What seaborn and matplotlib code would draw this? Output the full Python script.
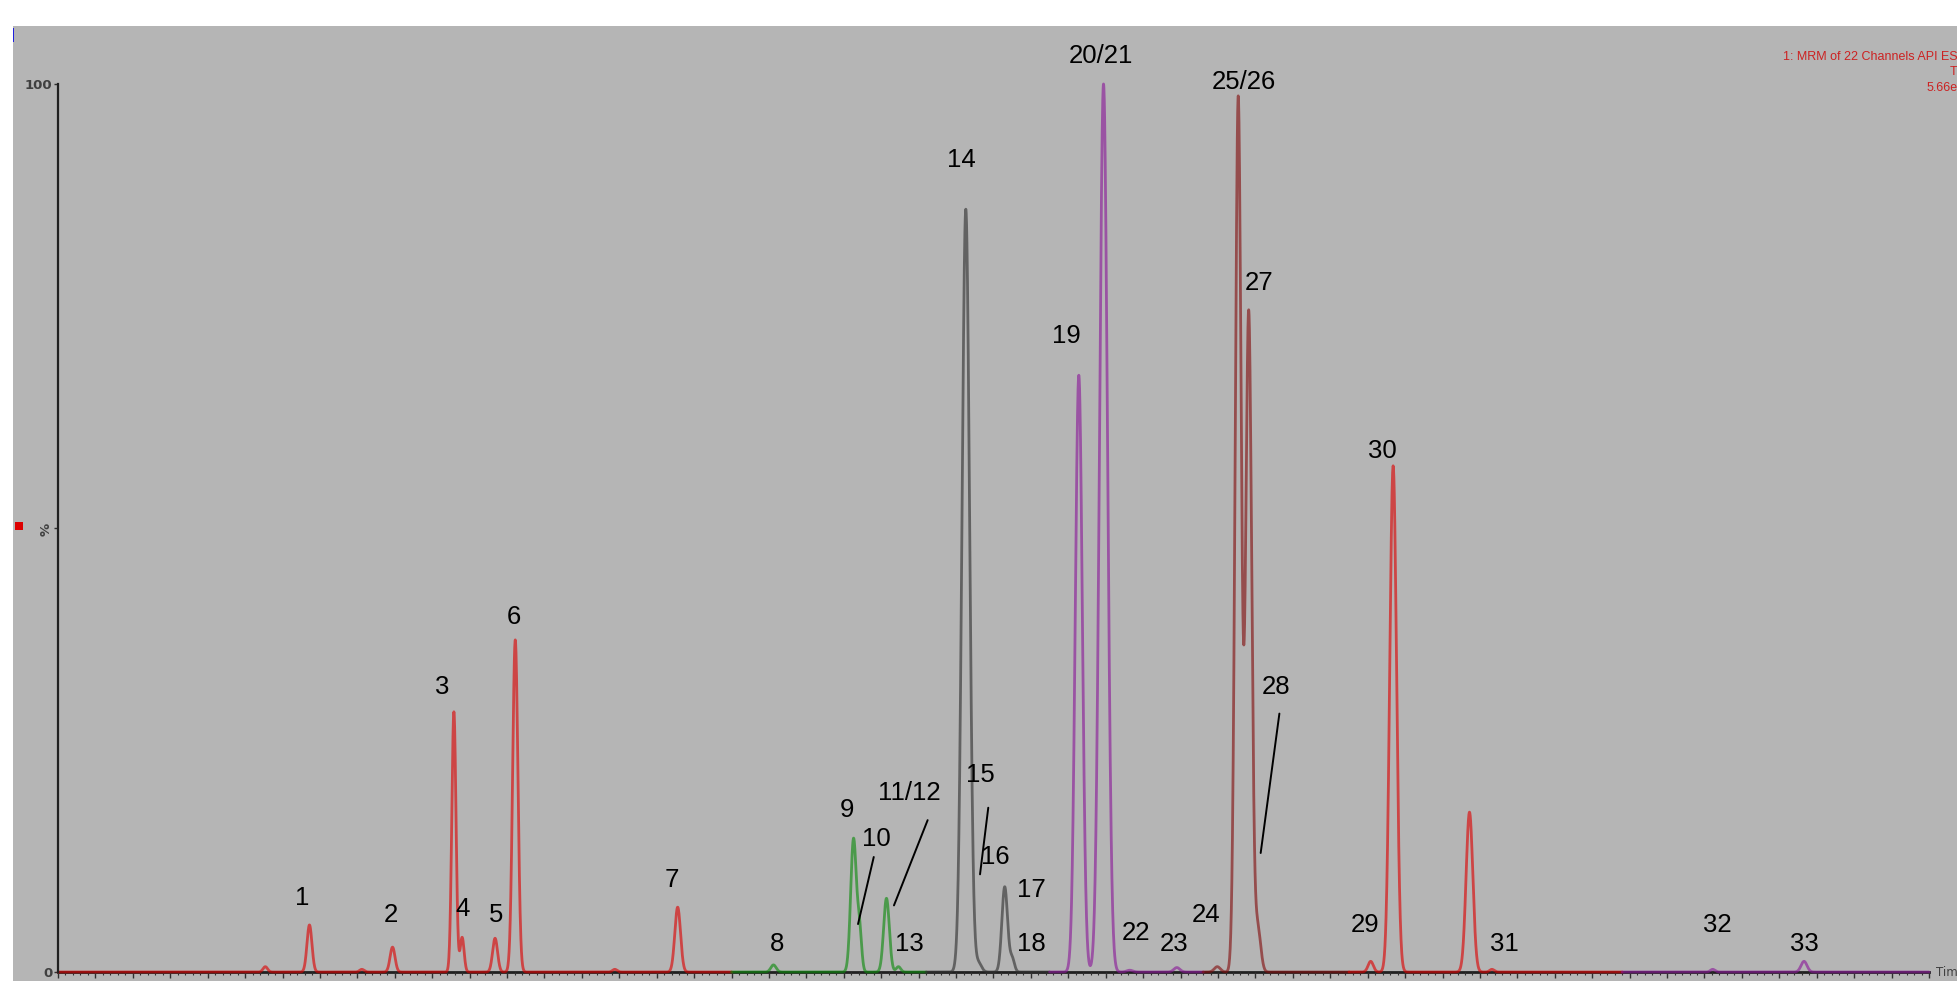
"""Recreate the MRM total ion chromatogram with numbered peak labels."""

import matplotlib

matplotlib.use("Agg")
import matplotlib.pyplot as plt
import numpy as np
import pandas as pd
import seaborn as sns
from matplotlib.patches import Rectangle
from matplotlib.ticker import MultipleLocator

# peak table
# retention time (min), height (% of base peak), sigma (min), trace the peak belongs to
peak_rt = [2.77, 3.36, 4.06, 4.47, 5.29, 5.40, 5.84, 6.11, 7.44, 8.28,
           9.56, 10.63, 10.71, 11.07, 11.23,
           12.13, 12.30, 12.65, 12.75,
           13.64, 13.97, 14.32, 14.95,
           15.49, 15.77, 15.91, 16.03,
           17.54, 17.84, 18.86, 19.16,
           22.11, 23.33]
peak_height = [0.6, 5.3, 0.3, 2.8, 29.3, 3.9, 3.8, 37.4, 0.3, 7.3,
               0.8, 15.0, 4.5, 8.3, 0.6,
               85.9, 1.0, 9.6, 1.5,
               67.2, 100.0, 0.2, 0.5,
               0.6, 98.5, 74.3, 5.0,
               1.2, 57.0, 18.0, 0.3,
               0.3, 1.2]
peak_sigma = [0.03, 0.033, 0.03, 0.033, 0.028, 0.026, 0.033, 0.035, 0.03, 0.038,
              0.035, 0.038, 0.028, 0.038, 0.03,
              0.05, 0.04, 0.038, 0.03,
              0.047, 0.053, 0.04, 0.04,
              0.04, 0.04, 0.04, 0.04,
              0.035, 0.045, 0.045, 0.03,
              0.03, 0.04]
peak_trace = ["A"] * 10 + ["B"] * 5 + ["C"] * 4 + ["D"] * 4 + ["E"] * 4 + ["F"] * 4 + ["G"] * 2

# time window covered by each function trace
trace_names = ["A", "B", "C", "D", "E", "F", "G"]
trace_start = [0.0, 9.0, 11.6, 13.25, 15.3, 17.25, 20.9]
trace_end = [9.0, 11.6, 13.25, 15.3, 17.25, 20.9, 25.0]
trace_colors = {
    "A": "#dd0000",
    "B": "#0a8a0a",
    "C": "#303030",
    "D": "#8a1798",
    "E": "#820d0d",
    "F": "#dd0000",
    "G": "#8a1798",
}

# peak numbers and where they were written
label_text = ["1", "2", "3", "4", "5", "6", "7", "8", "9", "10", "11/12", "13",
              "14", "15", "16", "17", "18", "19", "20/21", "22", "23", "24",
              "25/26", "27", "28", "29", "30", "31", "32", "33"]
label_x = [3.26, 4.45, 5.14, 5.40, 5.85, 6.09, 8.20, 9.61, 10.54, 10.94, 11.38, 11.37,
           12.07, 12.33, 12.53, 13.00, 13.00, 13.47, 13.94, 14.40, 14.91, 15.34,
           15.85, 16.05, 16.27, 17.46, 17.69, 19.33, 22.17, 23.33]
label_y = [8.3, 6.4, 32.1, 7.1, 6.4, 40.0, 10.4, 3.2, 18.2, 15.0, 20.2, 3.2,
           91.4, 22.2, 13.0, 9.2, 3.2, 71.6, 103.2, 4.4, 3.2, 6.4,
           100.2, 77.6, 32.1, 5.3, 58.7, 3.2, 5.3, 3.2]

# leader lines from label to peak: (x0, y0, x1, y1)
leaders = [
    (10.90, 12.95, 10.69, 5.4),
    (11.62, 17.1, 11.17, 7.5),
    (12.43, 18.5, 12.32, 11.0),
    (16.32, 29.1, 16.07, 13.4),
]


def build_traces():
    """Turn the peak table into one long frame of chromatogram traces."""
    frames = []
    rt = np.array(peak_rt)
    height = np.array(peak_height)
    sigma = np.array(peak_sigma)
    owner = np.array(peak_trace)
    for name, start, end in zip(trace_names, trace_start, trace_end):
        time = np.arange(start, end + 0.0025, 0.0025)
        signal = np.zeros_like(time)
        for r, h, s in zip(rt[owner == name], height[owner == name], sigma[owner == name]):
            signal += h * np.exp(-0.5 * ((time - r) / s) ** 2)
        frames.append(pd.DataFrame({"time": time, "intensity": signal, "trace": name}))
    return pd.concat(frames, ignore_index=True)


def main():
    sns.set_theme(style="white")
    plt.rcParams["font.family"] = ["Liberation Sans", "DejaVu Sans"]

    W, H = 1958, 981
    fig = plt.figure(figsize=(W / 100, H / 100), dpi=100, facecolor="white")

    # grey panel behind the chart
    fig.patches.append(Rectangle((13 / W, 0), 1, 1 - 26 / H, transform=fig.transFigure,
                                 facecolor="#b5b5b5", edgecolor="none", zorder=-2))
    fig.patches.append(Rectangle((13 / W, 1 - 42 / H), 1.5 / W, 14 / H, transform=fig.transFigure,
                                 facecolor="#2020dd", edgecolor="none", zorder=-1))
    fig.patches.append(Rectangle((15 / W, 1 - 530 / H), 8 / W, 8 / H, transform=fig.transFigure,
                                 facecolor="#dd0000", edgecolor="none", zorder=-1))

    ax = fig.add_axes([58 / W, 9 / H, (1929 - 58) / W, (972 - 84) / H])
    ax.set_facecolor("none")
    ax.set_zorder(2)

    data = build_traces()
    sns.lineplot(data=data, x="time", y="intensity", hue="trace", palette=trace_colors,
                 estimator=None, legend=False, linewidth=2.0, alpha=0.62, ax=ax)
    for line in ax.lines:
        line.set_clip_on(False)

    for text, x, y in zip(label_text, label_x, label_y):
        ax.text(x, y, text, ha="center", va="center", fontsize=18.5, color="black")
    for x0, y0, x1, y1 in leaders:
        ax.plot([x0, x1], [y0, y1], color="black", linewidth=1.4)

    ax.set_xlim(0, 25)
    ax.set_ylim(0, 100)
    ax.set_xlabel("")
    ax.set_ylabel("")

    for side in ["top", "right"]:
        ax.spines[side].set_visible(False)
    ax.spines["left"].set_color("#202020")
    ax.spines["left"].set_linewidth(1.6)
    ax.spines["bottom"].set_color("#202020")
    ax.spines["bottom"].set_linewidth(2.0)
    ax.spines["bottom"].set_zorder(0.5)

    ax.xaxis.set_major_locator(MultipleLocator(0.5))
    ax.xaxis.set_minor_locator(MultipleLocator(0.1))
    ax.set_xticklabels([])
    ax.tick_params(axis="x", which="major", direction="out", length=4.5, width=1.0,
                   color="#303030", bottom=True)
    ax.tick_params(axis="x", which="minor", direction="out", length=2.5, width=0.8,
                   color="#303030", bottom=True)

    ax.set_yticks([0, 50, 100])
    ax.set_yticklabels(["0", "%", "100"], fontsize=9.5, color="#404040",
                       fontweight="bold", family=["DejaVu Sans"])
    ax.get_yticklabels()[1].set_rotation(90)
    ax.tick_params(axis="y", which="major", direction="out", length=3, width=1.0,
                   color="#303030", pad=1, left=True)

    fig.text(1936 / W, 1 - 972 / H, "Time", ha="left", va="center", fontsize=8.5,
             color="#404040", family=["DejaVu Sans"])

    info_color = "#cc2222"
    fig.text(1783 / W, 1 - 57 / H, "1: MRM of 22 Channels API ES+", ha="left", va="center",
             fontsize=9, color=info_color)
    fig.text(1950 / W, 1 - 72 / H, "TIC", ha="left", va="center", fontsize=9, color=info_color)
    fig.text(1927 / W, 1 - 88 / H, "5.66e6", ha="left", va="center", fontsize=9, color=info_color)

    fig.savefig("out.png", dpi=100, facecolor="white")
    plt.close(fig)


if __name__ == "__main__":
    main()
